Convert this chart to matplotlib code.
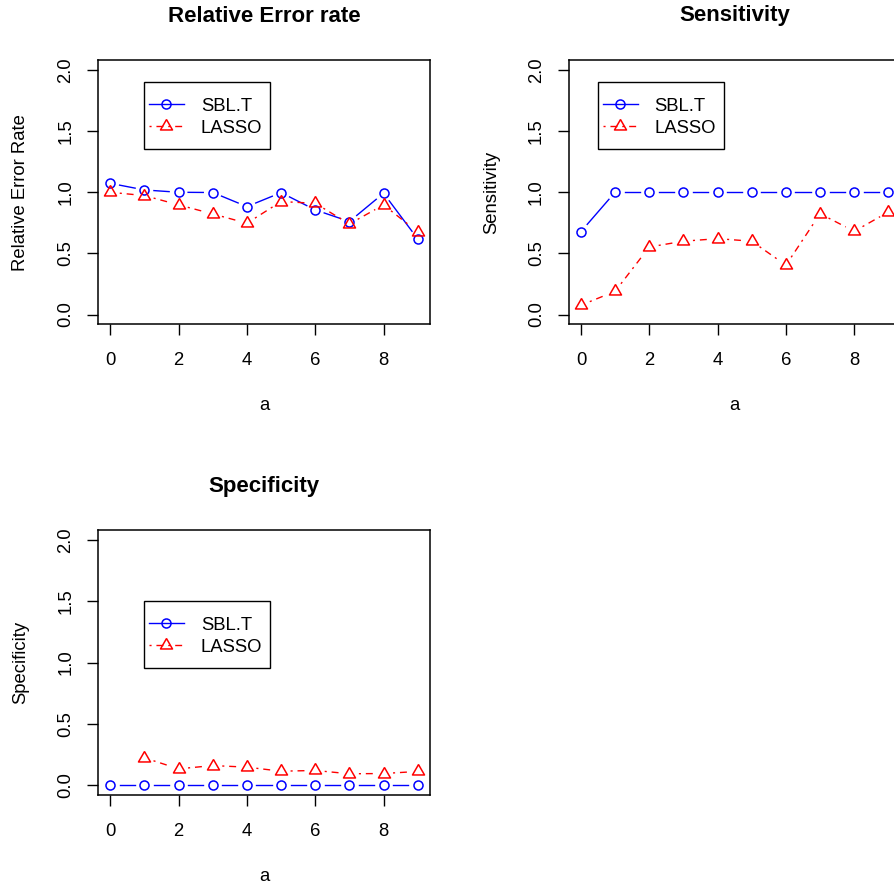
import numpy as np
import matplotlib
matplotlib.use('Agg')
import matplotlib.pyplot as plt
from matplotlib.patches import Rectangle

plt.rcParams['font.family'] = ['Liberation Sans', 'DejaVu Sans']

# datos
a = np.arange(10)
ticks_x = [0, 2, 4, 6, 8]
ticks_y = [0.0, 0.5, 1.0, 1.5, 2.0]

rel_sbl = [1.072, 1.018, 0.999, 0.997, 0.882, 0.996, 0.855, 0.760, 0.991, 0.618]
rel_lasso = [0.999, 0.972, 0.896, 0.822, 0.746, 0.923, 0.909, 0.740, 0.896, 0.675]

sen_sbl = [0.678, 1.0, 1.0, 1.0, 1.0, 1.0, 1.0, 1.0, 1.0, 1.0]
sen_lasso = [0.076, 0.19, 0.552, 0.599, 0.62, 0.599, 0.403, 0.824, 0.68, 0.838]

spe_sbl = [0.0] * 10
spe_lasso = [np.nan, 0.223, 0.133, 0.16, 0.147, 0.114, 0.12, 0.093, 0.095, 0.112]

series_names = ['SBL.T', 'LASSO']

W, H = 895, 886
fig = plt.figure(figsize=(W / 100, H / 100), dpi=100)

BLUE = '#0000FF'
RED = '#FF0000'
TRI = [(0, 1), (-0.866, -0.5), (0.866, -0.5), (0, 1)]
DOTDASH = (0, (1.5, 3.5, 5, 3.5))
FS = 13.3


def px_axes(left, top, right, bottom):
    return fig.add_axes([left / W, 1 - bottom / H, (right - left) / W, (bottom - top) / H])


def ftext(x, y, s, **kw):
    fig.text(x / W, 1 - y / H, s, **kw)


def linea_b(ax, x, y, color, ls, marker, ms, gap=9.5):
    # type="b" de R: segmentos con hueco alrededor de los puntos
    T = ax.transData
    pts = T.transform(np.column_stack([x, y]))
    for i in range(len(x) - 1):
        p, q = pts[i], pts[i + 1]
        if not (np.all(np.isfinite(p)) and np.all(np.isfinite(q))):
            continue
        d = q - p
        n = np.hypot(*d)
        if n <= 2 * gap:
            continue
        u = d / n
        seg = T.inverted().transform(np.array([p + u * gap, q - u * gap]))
        ax.plot(seg[:, 0], seg[:, 1], color=color, lw=1, ls=ls)
    ax.plot(x, y, ls='none', marker=marker, ms=ms, mfc='none', mec=color, mew=1.1)


def leyenda(ax, x0, y0):
    T = ax.transData
    X0, Y0 = T.transform((x0, y0))

    def d(px, py):
        return T.inverted().transform((X0 + px, Y0 - py))

    p0 = d(0, 67)
    p1 = d(126, 0)
    ax.add_patch(Rectangle(p0, p1[0] - p0[0], p1[1] - p0[1], fill=False,
                           ec='black', lw=1, zorder=5))
    filas = [(BLUE, '-', 'o', 6.5), (RED, DOTDASH, TRI, 10)]
    for k, (c, ls, m, ms) in enumerate(filas):
        yy = 22.3 + 22 * k
        a0 = d(4.5, yy)
        a1 = d(39.5, yy)
        ax.plot([a0[0], a1[0]], [a0[1], a1[1]], color=c, lw=1, ls=ls, zorder=6)
        mm = d(22, yy)
        ax.plot([mm[0]], [mm[1]], marker=m, ms=ms, mfc='none', mec=c, mew=1.1, zorder=6)
        tt = d(56.5, yy)
        ax.text(tt[0], tt[1], series_names[k], fontsize=FS, va='center_baseline',
                ha='left', zorder=6)


def panel(box, titulo, ylab, sbl, lasso, leg_xy):
    left, top, right, bottom = box
    ax = px_axes(left, top, right, bottom)
    ax.set_xlim(-0.36, 9.36)
    ax.set_ylim(-0.08, 2.08)
    ax.set_xticks(ticks_x)
    ax.set_xticklabels([str(t) for t in ticks_x], fontsize=FS)
    ax.set_yticks(ticks_y)
    ax.set_yticklabels([f'{t:.1f}' for t in ticks_y], fontsize=FS, rotation=90,
                       va='center')
    ax.tick_params(length=8, width=1)
    ax.tick_params(axis='x', pad=12)
    ax.tick_params(axis='y', pad=9)
    for s in ax.spines.values():
        s.set_linewidth(1.1)
    linea_b(ax, a, sbl, BLUE, '-', 'o', 6.5)
    linea_b(ax, a, lasso, RED, DOTDASH, TRI, 10)
    leyenda(ax, *leg_xy)
    cx = (left + right) / 2
    ftext(cx, top - 44, titulo, fontsize=16, fontweight='bold', ha='center', va='center')
    ftext(cx, bottom + 81.5, 'a', fontsize=FS, ha='center', va='center')
    ftext(left - 77, (top + bottom) / 2, ylab, fontsize=FS, ha='center', va='center',
          rotation=90)
    return ax


panel((98, 60, 430, 324.3), 'Relative Error rate', 'Relative Error Rate',
      rel_sbl, rel_lasso, (1.0, 1.9))
panel((568.7, 60, 900.7, 324.3), 'Sensitivity', 'Sensitivity',
      sen_sbl, sen_lasso, (0.5, 1.9))
panel((98, 530, 430, 795), 'Specificity', 'Specificity',
      spe_sbl, spe_lasso, (1.0, 1.5))

fig.savefig('out.png', dpi=100)
